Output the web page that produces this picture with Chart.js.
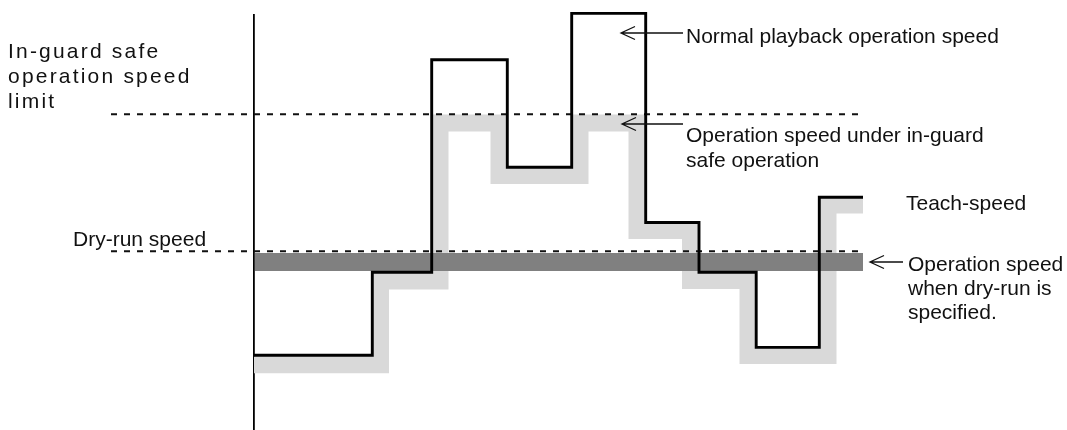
<!DOCTYPE html>
<html><head><meta charset="utf-8">
<script src="https://cdn.jsdelivr.net/npm/chart.js@4"></script>
<style>html,body{margin:0;padding:0;background:#fff;overflow:hidden}</style>
</head><body>
<canvas id="c" width="1067" height="430"></canvas>
<script>
// ---- data (time units vs speed units) ----
const normalTimes  = [0, 11.83, 17.77, 25.33, 31.77, 39.17, 44.5, 50.22, 56.53, 60.9];
const normalSpeeds = [18, 38, 89.2, 63.3, 100.4, 50, 38, 19.9, 56.1, 56.1];
const safeTimes    = [0, 12.65, 18.6, 24.5, 32.6, 38.3, 43.65, 49.4, 57.4, 60.9];
const safeSpeeds   = [15.7, 35.9, 74, 61.3, 74, 48.1, 36, 17.95, 54.2, 54.2];
const dryRunTimes  = [0.1, 60.9];
const dryRunOperationSpeed = 40.5;
const safeLimitSpeed = 76.1;
const dryRunSpeed = 43.1;
const referenceTimes = [-14.3, 60.8];

const xRange = [-25.4, 81.3];
const yRange = [0, 100];

const pts = (xs, ys) => xs.map((x, i) => ({x, y: ys[i]}));
const flat = (xs, v) => xs.map(x => ({x, y: v}));

// ---- annotations (anchored in data coordinates) ----
const textLabels = [
  {lines: ['In-guard safe', 'operation speed', 'limit'], x: -24.6, y: 89.64, pitch: 25, spacing: 2.2},
  {lines: ['Dry-run speed'], x: -18.1, y: 44.34, pitch: 25, spacing: 0},
  {lines: ['Normal playback operation speed'], x: 43.2, y: 93.3, pitch: 25, spacing: 0},
  {lines: ['Operation speed under in-guard', 'safe operation'], x: 43.2, y: 69.4, pitch: 25, spacing: 0},
  {lines: ['Teach-speed'], x: 65.2, y: 53.0, pitch: 25, spacing: 0},
  {lines: ['Operation speed', 'when dry-run is', 'specified.'], x: 65.4, y: 38.31, pitch: 24, spacing: 0}
];
const arrows = [
  {tipX: 36.7, tailX: 42.9, y: 95.66},
  {tipX: 36.8, tailX: 42.9, y: 73.73},
  {tipX: 61.6, tailX: 64.9, y: 40.48}
];

const annotate = {
  id: 'annotate',
  afterDraw(chart) {
    const {ctx, scales: {x, y}} = chart;
    ctx.save();
    ctx.fillStyle = '#111';
    ctx.font = '21px "Liberation Sans", Arial, Helvetica, sans-serif';
    ctx.textBaseline = 'alphabetic';
    ctx.textAlign = 'left';
    for (const l of textLabels) {
      const px = x.getPixelForValue(l.x);
      const py = y.getPixelForValue(l.y);
      l.lines.forEach((s, i) => {
        const by = py + i * l.pitch;
        if (!l.spacing) { ctx.fillText(s, px, by); return; }
        let cx = px;
        for (const ch of s) {
          ctx.fillText(ch, cx, by);
          cx += ctx.measureText(ch).width + l.spacing;
        }
      });
    }
    ctx.strokeStyle = '#111';
    ctx.lineWidth = 1.3;
    for (const a of arrows) {
      const tx = x.getPixelForValue(a.tipX), ex = x.getPixelForValue(a.tailX), ay = y.getPixelForValue(a.y);
      ctx.beginPath();
      ctx.moveTo(ex, ay); ctx.lineTo(tx, ay);
      ctx.moveTo(tx + 14, ay - 6.5); ctx.lineTo(tx, ay); ctx.lineTo(tx + 14, ay + 6.5);
      ctx.stroke();
    }
    ctx.restore();
  }
};

const common = {pointRadius: 0, pointHoverRadius: 0, fill: false, clip: false, tension: 0};

new Chart(document.getElementById('c'), {
  type: 'line',
  data: {
    datasets: [
      Object.assign({label: 'Normal playback operation speed', data: pts(normalTimes, normalSpeeds),
        borderColor: '#000', borderWidth: 2.9, stepped: true, order: 0,
        borderJoinStyle: 'miter', borderCapStyle: 'butt'}, common),
      Object.assign({label: 'In-guard safe operation speed limit', data: flat(referenceTimes, safeLimitSpeed),
        borderColor: '#111', borderWidth: 2, borderDash: [6, 7], order: 1, borderCapStyle: 'butt'}, common),
      Object.assign({label: 'Dry-run speed', data: flat(referenceTimes, dryRunSpeed),
        borderColor: '#111', borderWidth: 2, borderDash: [6, 7], order: 1, borderCapStyle: 'butt'}, common),
      Object.assign({label: 'Operation speed when dry-run is specified', data: flat(dryRunTimes, dryRunOperationSpeed),
        borderColor: '#808080', borderWidth: 18, order: 2, borderCapStyle: 'butt'}, common),
      Object.assign({label: 'Operation speed under in-guard safe operation', data: pts(safeTimes, safeSpeeds),
        borderColor: '#d9d9d9', borderWidth: 17, stepped: true, order: 3,
        borderJoinStyle: 'miter', borderCapStyle: 'butt'}, common)
    ]
  },
  options: {
    responsive: false,
    animation: false,
    events: [],
    layout: {padding: {top: 15, left: 0, right: 0, bottom: 0}},
    plugins: {legend: {display: false}, tooltip: {enabled: false}, title: {display: false}},
    scales: {
      x: {type: 'linear', min: xRange[0], max: xRange[1], display: false},
      y: {type: 'linear', min: yRange[0], max: yRange[1], position: {x: 0},
          ticks: {display: false}, grid: {display: false, drawTicks: false},
          border: {display: true, color: '#000', width: 1.8}}
    }
  },
  plugins: [annotate]
});
</script>
</body></html>
